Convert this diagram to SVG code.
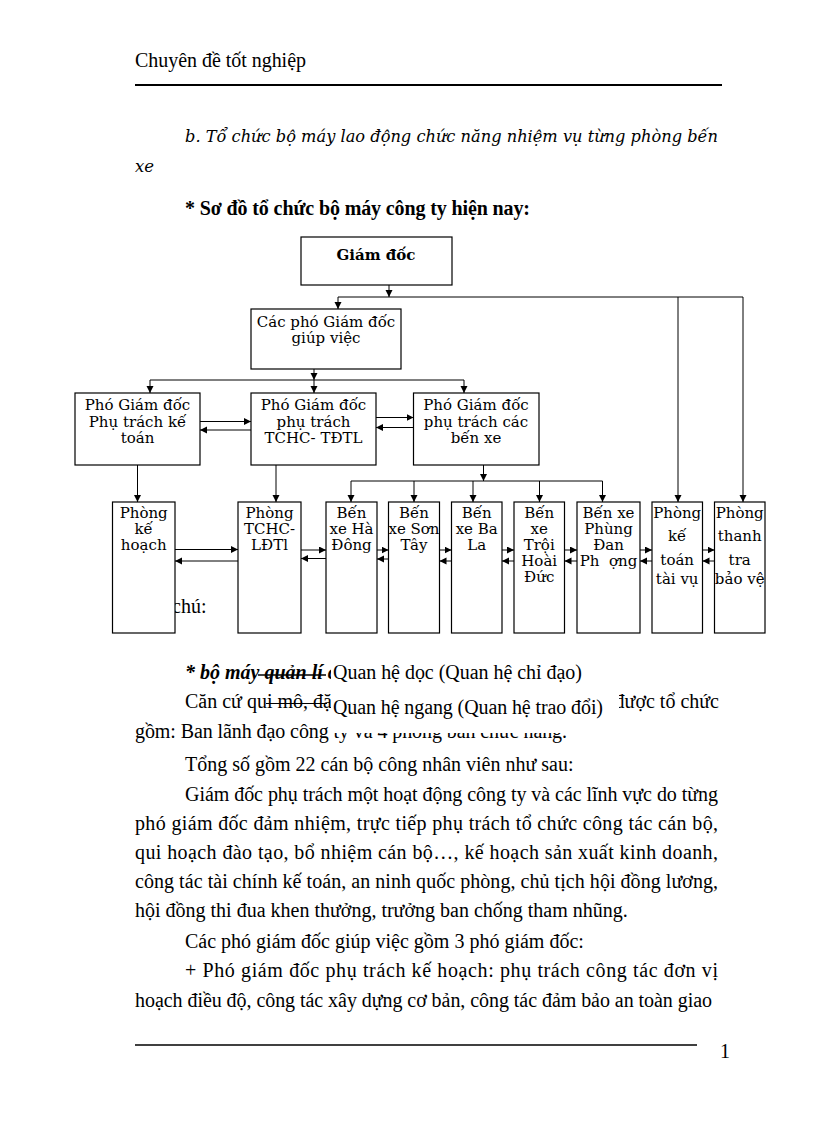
<svg xmlns="http://www.w3.org/2000/svg" width="816" height="1123" viewBox="0 0 816 1123">
<defs>
<marker id="ah" markerUnits="userSpaceOnUse" markerWidth="8" markerHeight="8" refX="7" refY="3.5" orient="auto">
<path d="M0,0 L7,3.5 L0,7 z" fill="#000"/>
</marker>
<style>
.body{font-family:"Liberation Serif","Times New Roman",serif;font-size:20px;fill:#000}
.box{fill:#fff;stroke:#000;stroke-width:1.2}
.bt{font-family:"DejaVu Serif",serif;font-size:15px;fill:#000;text-anchor:middle}
.c{fill:none;stroke:#000;stroke-width:1}
.a{fill:none;stroke:#000;stroke-width:1;marker-end:url(#ah)}
</style>
</defs>
<rect x="0" y="0" width="816" height="1123" fill="#fff"/>

<g id="page-header">
<text class="body" x="135" y="67" textLength="171" lengthAdjust="spacing">Chuyên đề tốt nghiệp</text>
<line x1="135" y1="85" x2="722" y2="85" stroke="#000" stroke-width="2"/>
</g>

<g id="intro">
<text x="185" y="142" font-family="DejaVu Serif, serif" font-style="italic" font-size="16.5" textLength="533" lengthAdjust="spacingAndGlyphs">b. Tổ chức bộ máy lao động chức năng nhiệm vụ từng phòng bến</text>
<text x="135" y="172" font-family="DejaVu Serif, serif" font-style="italic" font-size="16.5">xe</text>
<text class="body" x="185" y="215" font-weight="bold" textLength="345" lengthAdjust="spacing">* Sơ đồ tổ chức bộ máy công ty hiện nay:</text>
</g>

<text class="body" x="172" y="613">chú:</text>

<g id="connectors">
<line class="a" x1="389" y1="285" x2="389" y2="297"/>
<line class="c" x1="338" y1="297" x2="743" y2="297"/>
<line class="a" x1="338" y1="297" x2="338" y2="309"/>
<line class="a" x1="678" y1="297" x2="678" y2="502"/>
<line class="a" x1="743" y1="297" x2="743" y2="502"/>
<line class="a" x1="314" y1="369" x2="314" y2="380"/>
<line class="c" x1="150" y1="380" x2="464" y2="380"/>
<line class="a" x1="150" y1="380" x2="150" y2="393"/>
<line class="a" x1="314" y1="380" x2="314" y2="393"/>
<line class="a" x1="464" y1="380" x2="464" y2="393"/>
<line class="a" x1="200" y1="421.5" x2="251" y2="421.5"/>
<line class="a" x1="251" y1="430" x2="200" y2="430"/>
<line class="a" x1="376" y1="417.5" x2="413.5" y2="417.5"/>
<line class="a" x1="413.5" y1="427.5" x2="376" y2="427.5"/>
<line class="a" x1="137.5" y1="465" x2="137.5" y2="502"/>
<line class="a" x1="276" y1="465" x2="276" y2="502"/>
<line class="a" x1="483.5" y1="465" x2="483.5" y2="481"/>
<line class="c" x1="351" y1="481" x2="602.5" y2="481"/>
<line class="a" x1="351" y1="481" x2="351" y2="502"/>
<line class="a" x1="414" y1="481" x2="414" y2="502"/>
<line class="a" x1="473" y1="481" x2="473" y2="502"/>
<line class="a" x1="539.5" y1="481" x2="539.5" y2="502"/>
<line class="a" x1="602.5" y1="481" x2="602.5" y2="502"/>
<line class="a" x1="175" y1="549.5" x2="238" y2="549.5"/>
<line class="a" x1="238" y1="561" x2="175" y2="561"/>
<line class="a" x1="301" y1="550" x2="326" y2="550"/>
<line class="a" x1="326" y1="558.5" x2="301" y2="558.5"/>
<line class="a" x1="377" y1="550" x2="388.5" y2="550"/>
<line class="a" x1="388.5" y1="559" x2="377" y2="559"/>
<line class="a" x1="439.5" y1="550" x2="451.5" y2="550"/>
<line class="a" x1="451.5" y1="561" x2="439.5" y2="561"/>
<line class="a" x1="502" y1="550" x2="514" y2="550"/>
<line class="a" x1="514" y1="561" x2="502" y2="561"/>
<line class="a" x1="564.5" y1="550" x2="577" y2="550"/>
<line class="a" x1="577" y1="561" x2="564.5" y2="561"/>
<line class="a" x1="640" y1="550" x2="652" y2="550"/>
<line class="a" x1="652" y1="561" x2="640" y2="561"/>
<line class="a" x1="702.5" y1="550" x2="714.5" y2="550"/>
<line class="a" x1="714.5" y1="561" x2="702.5" y2="561"/>
</g>

<g id="giam-doc">
<rect class="box" x="301" y="237" width="151" height="48"/>
<text class="bt" x="376" y="260" font-weight="bold">Giám đốc</text>
</g>
<g id="cac-pho-giam-doc">
<rect class="box" x="251" y="309" width="150" height="60"/>
<text class="bt" x="326" y="327">Các phó Giám đốc</text>
<text class="bt" x="326" y="343">giúp việc</text>
</g>
<g id="pgd-ke-toan">
<rect class="box" x="75" y="393" width="125" height="72"/>
<text class="bt" x="137.5" y="410">Phó Giám đốc</text>
<text class="bt" x="137.5" y="427">Phụ trách kế</text>
<text class="bt" x="137.5" y="443">toán</text>
</g>
<g id="pgd-tchc">
<rect class="box" x="251" y="393" width="125" height="72"/>
<text class="bt" x="313.5" y="410">Phó Giám đốc</text>
<text class="bt" x="313.5" y="427">phụ trách</text>
<text class="bt" x="313.5" y="443">TCHC- TĐTL</text>
</g>
<g id="pgd-ben-xe">
<rect class="box" x="413.5" y="393" width="125.5" height="72"/>
<text class="bt" x="476" y="410">Phó Giám đốc</text>
<text class="bt" x="476" y="427">phụ trách các</text>
<text class="bt" x="476" y="443">bến xe</text>
</g>

<g id="phong-ke-hoach">
<rect class="box" x="112.5" y="502" width="62.5" height="131"/>
<text class="bt" x="143.7" y="518">Phòng</text>
<text class="bt" x="143.7" y="534">kế</text>
<text class="bt" x="143.7" y="550">hoạch</text>
</g>
<g id="phong-tchc">
<rect class="box" x="238" y="502" width="63" height="131"/>
<text class="bt" x="269.5" y="518">Phòng</text>
<text class="bt" x="269.5" y="534">TCHC-</text>
<text class="bt" x="269.5" y="550">LĐTl</text>
</g>
<g id="ben-xe-ha-dong">
<rect class="box" x="326" y="502" width="51" height="131"/>
<text class="bt" x="351.5" y="518">Bến</text>
<text class="bt" x="351.5" y="534">xe Hà</text>
<text class="bt" x="351.5" y="550">Đông</text>
</g>
<g id="ben-xe-son-tay">
<rect class="box" x="388.5" y="502" width="51" height="131"/>
<text class="bt" x="414" y="518">Bến</text>
<text class="bt" x="414" y="534">xe Sơn</text>
<text class="bt" x="414" y="550">Tây</text>
</g>
<g id="ben-xe-ba-la">
<rect class="box" x="451.5" y="502" width="50.5" height="131"/>
<text class="bt" x="476.7" y="518">Bến</text>
<text class="bt" x="476.7" y="534">xe Ba</text>
<text class="bt" x="476.7" y="550">La</text>
</g>
<g id="ben-xe-troi">
<rect class="box" x="514" y="502" width="50.5" height="131"/>
<text class="bt" x="539.2" y="518">Bến</text>
<text class="bt" x="539.2" y="534">xe</text>
<text class="bt" x="539.2" y="550">Trội</text>
<text class="bt" x="539.2" y="566">Hoài</text>
<text class="bt" x="539.2" y="582">Đức</text>
</g>
<g id="ben-xe-phung">
<rect class="box" x="577" y="502" width="63" height="131"/>
<text class="bt" x="608.5" y="518">Bến xe</text>
<text class="bt" x="608.5" y="534">Phùng</text>
<text class="bt" x="608.5" y="550">Đan</text>
<text class="bt" x="608.5" y="566">Ph&#160; ợng</text>
</g>
<g id="phong-ke-toan-tai-vu">
<rect class="box" x="652" y="502" width="50.5" height="131"/>
<text class="bt" x="677.2" y="518">Phòng</text>
<text class="bt" x="677.2" y="541">kế</text>
<text class="bt" x="677.2" y="565">toán</text>
<text class="bt" x="677.2" y="584">tài vụ</text>
</g>
<g id="phong-thanh-tra">
<rect class="box" x="714.5" y="502" width="50.5" height="131"/>
<text class="bt" x="739.7" y="518">Phòng</text>
<text class="bt" x="739.7" y="541">thanh</text>
<text class="bt" x="739.7" y="565">tra</text>
<text class="bt" x="739.7" y="584">bảo vệ</text>
</g>

<g id="body-under-legend">
<text class="body" x="185" y="679" font-weight="bold" font-style="italic">* bộ máy quản lí c</text>
<text class="body" x="185" y="708">Căn cứ qui mô, đặc</text>
<text class="body" x="719" y="708" text-anchor="end">được tổ chức</text>
<text class="body" x="135" y="738" textLength="432" lengthAdjust="spacing">gồm: Ban lãnh đạo công ty và 4 phòng ban chức năng.</text>
</g>

<g id="legend">
<rect x="331" y="660" width="252" height="29" fill="#fff"/>
<rect x="331" y="689" width="288" height="44" fill="#fff"/>
<line x1="258" y1="675" x2="326" y2="675" stroke="#000" stroke-width="1.5"/>
<line x1="266" y1="703.5" x2="327" y2="703.5" stroke="#000" stroke-width="1"/>
<text class="body" x="333" y="679" textLength="249" lengthAdjust="spacing">Quan hệ dọc (Quan hệ chỉ đạo)</text>
<text class="body" x="333" y="714" textLength="270" lengthAdjust="spacing">Quan hệ ngang (Quan hệ trao đổi)</text>
</g>

<g id="body-text">
<text class="body" x="185" y="771">Tổng số gồm 22 cán bộ công nhân viên như sau:</text>
<text class="body" x="185" y="801" textLength="533" lengthAdjust="spacing">Giám đốc phụ trách một hoạt động công ty và các lĩnh vực do từng</text>
<text class="body" x="135" y="830" textLength="583" lengthAdjust="spacing">phó giám đốc đảm nhiệm, trực tiếp phụ trách tổ chức công tác cán bộ,</text>
<text class="body" x="135" y="859" textLength="583" lengthAdjust="spacing">qui hoạch đào tạo, bổ nhiệm cán bộ…, kế hoạch sản xuất kinh doanh,</text>
<text class="body" x="135" y="888" textLength="583" lengthAdjust="spacing">công tác tài chính kế toán, an ninh quốc phòng, chủ tịch hội đồng lương,</text>
<text class="body" x="135" y="917">hội đồng thi đua khen thưởng, trưởng ban chống tham nhũng.</text>
<text class="body" x="185" y="948">Các phó giám đốc giúp việc gồm 3 phó giám đốc:</text>
<text class="body" x="185" y="977" textLength="533" lengthAdjust="spacing">+ Phó giám đốc phụ trách kế hoạch: phụ trách công tác đơn vị</text>
<text class="body" x="135" y="1007" textLength="577" lengthAdjust="spacing">hoạch điều độ, công tác xây dựng cơ bản, công tác đảm bảo an toàn giao</text>
</g>

<g id="page-footer">
<line x1="135" y1="1045" x2="697" y2="1045" stroke="#000" stroke-width="1.5"/>
<text class="body" x="720" y="1058" font-size="18">1</text>
</g>
</svg>
